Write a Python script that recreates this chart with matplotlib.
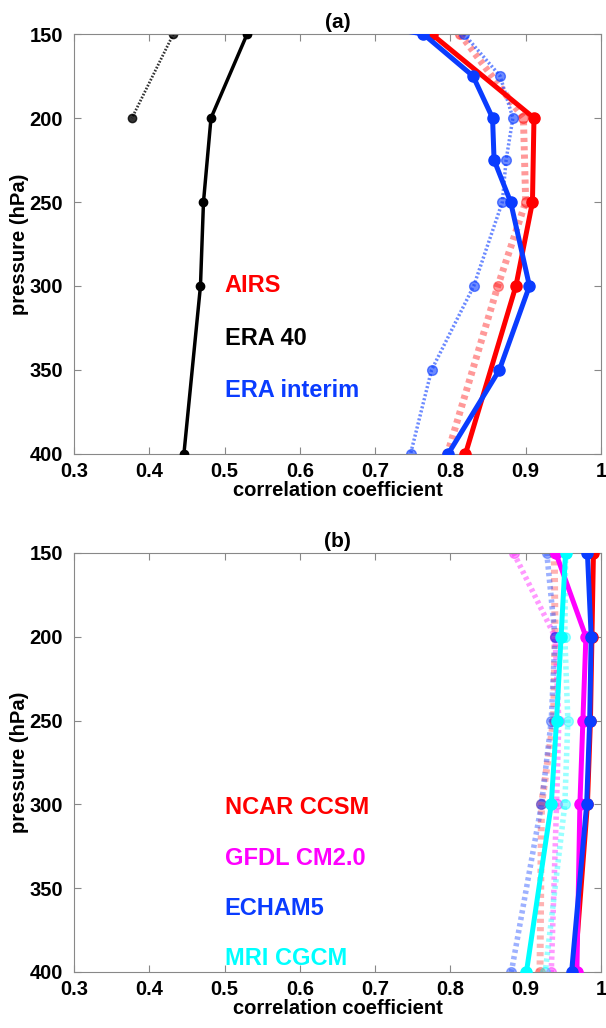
import numpy as np
import matplotlib.pyplot as plt

# pressure levels (hPa)
lev5 = [150, 200, 250, 300, 400]
lev8 = [150, 175, 200, 225, 250, 300, 350, 400]
lev_eri = [100, 150, 175, 200, 225, 250, 300, 350, 400]

# panel (a): reanalyses / AIRS
airs = [0.775, 0.911, 0.909, 0.887, 0.820]
airs_dot = [0.813, 0.897, 0.900, 0.863, 0.796]
era40 = [0.530, 0.482, 0.472, 0.468, 0.446]
era40_dot_lev = [150, 200]
era40_dot = [0.432, 0.377]
eri = [0.12, 0.764, 0.830, 0.856, 0.858, 0.880, 0.905, 0.865, 0.797]
eri_dot = [0.818, 0.866, 0.883, 0.874, 0.869, 0.831, 0.775, 0.747]

# panel (b): models
ncar = [0.990, 0.988, 0.986, 0.982, 0.965]
ncar_dot = [0.938, 0.939, 0.937, 0.921, 0.919]
gfdl = [0.940, 0.980, 0.976, 0.972, 0.968]
gfdl_dot = [0.884, 0.939, 0.944, 0.941, 0.934]
echam = [0.982, 0.987, 0.985, 0.981, 0.961]
echam_dot = [0.928, 0.939, 0.934, 0.921, 0.881]
mri = [0.953, 0.947, 0.941, 0.934, 0.901]
mri_dot = [0.953, 0.952, 0.956, 0.952, 0.926]

RED = '#ff0000'
BLUE = '#0a3cff'
MAG = '#ff00ff'
CYAN = '#00ffff'

plt.rcParams['font.family'] = ['Liberation Sans', 'DejaVu Sans']
plt.rcParams['font.weight'] = 'bold'

fig = plt.figure(figsize=(6.06, 10.28), dpi=100)
ax1 = fig.add_axes([0.1221, 0.5584, 0.8696, 0.4085])
ax2 = fig.add_axes([0.1221, 0.0545, 0.8696, 0.4076])


def solid(ax, x, y, c, lw=3.6, ms=8):
    ax.plot(x, y, '-', color=c, lw=lw, marker='o', ms=ms, mec=c, mfc=c, zorder=3)


def dotted(ax, x, y, c, lw=3.0, ms=7, alpha=0.6):
    ax.plot(x, y, color=c, lw=lw, ls=(0, (0.6, 0.6)), alpha=alpha,
            marker='o', ms=ms, mec=c, mfc=c, zorder=2)


# --- panel (a)
dotted(ax1, airs_dot, lev5, RED, lw=5, alpha=0.4)
dotted(ax1, eri_dot, lev8, BLUE, lw=2.5, alpha=0.6)
dotted(ax1, era40_dot, era40_dot_lev, 'k', lw=2, ms=6, alpha=0.8)
solid(ax1, era40, lev5, 'k', lw=2.5, ms=6)
solid(ax1, airs, lev5, RED)
solid(ax1, eri, lev_eri, BLUE)

ax1.text(0.5, 300, 'AIRS', color=RED, fontsize=17, fontweight='bold', va='center')
ax1.text(0.5, 331, 'ERA 40', color='k', fontsize=17, fontweight='bold', va='center')
ax1.text(0.5, 362, 'ERA interim', color=BLUE, fontsize=17, fontweight='bold', va='center')
ax1.set_title('(a)', fontsize=15, fontweight='bold', pad=4)

# --- panel (b)
dotted(ax2, ncar_dot, lev5, RED, lw=5, alpha=0.3)
dotted(ax2, gfdl_dot, lev5, MAG, lw=4, alpha=0.4)
dotted(ax2, echam_dot, lev5, BLUE, lw=4, alpha=0.4)
dotted(ax2, mri_dot, lev5, CYAN, lw=4, alpha=0.4)
solid(ax2, ncar, lev5, RED)
solid(ax2, gfdl, lev5, MAG)
solid(ax2, echam, lev5, BLUE)
solid(ax2, mri, lev5, CYAN)

ax2.text(0.5, 302, 'NCAR CCSM', color=RED, fontsize=17, fontweight='bold', va='center')
ax2.text(0.5, 332, 'GFDL CM2.0', color=MAG, fontsize=17, fontweight='bold', va='center')
ax2.text(0.5, 362, 'ECHAM5', color=BLUE, fontsize=17, fontweight='bold', va='center')
ax2.text(0.5, 392, 'MRI CGCM', color=CYAN, fontsize=17, fontweight='bold', va='center')
ax2.set_title('(b)', fontsize=15, fontweight='bold', pad=4)

for ax in (ax1, ax2):
    ax.set_xlim(0.3, 1.0)
    ax.set_ylim(400, 150)
    ax.set_xticks([0.3, 0.4, 0.5, 0.6, 0.7, 0.8, 0.9, 1.0])
    ax.set_xticklabels(['0.3', '0.4', '0.5', '0.6', '0.7', '0.8', '0.9', '1'])
    ax.set_yticks([150, 200, 250, 300, 350, 400])
    ax.tick_params(direction='in', top=True, right=True, length=5,
                   color='#888888', labelsize=14.5)
    ax.tick_params(axis='x', pad=6)
    ax.tick_params(axis='y', pad=8)
    for lab in ax.get_xticklabels() + ax.get_yticklabels():
        lab.set_fontweight('bold')
    for s in ax.spines.values():
        s.set_color('#888888')
    ax.set_xlabel('correlation coefficient', fontsize=14.5, fontweight='bold', labelpad=0)
    ax.set_ylabel('pressure (hPa)', fontsize=14.5, fontweight='bold', labelpad=0)

fig.savefig('out.png', dpi=100)
